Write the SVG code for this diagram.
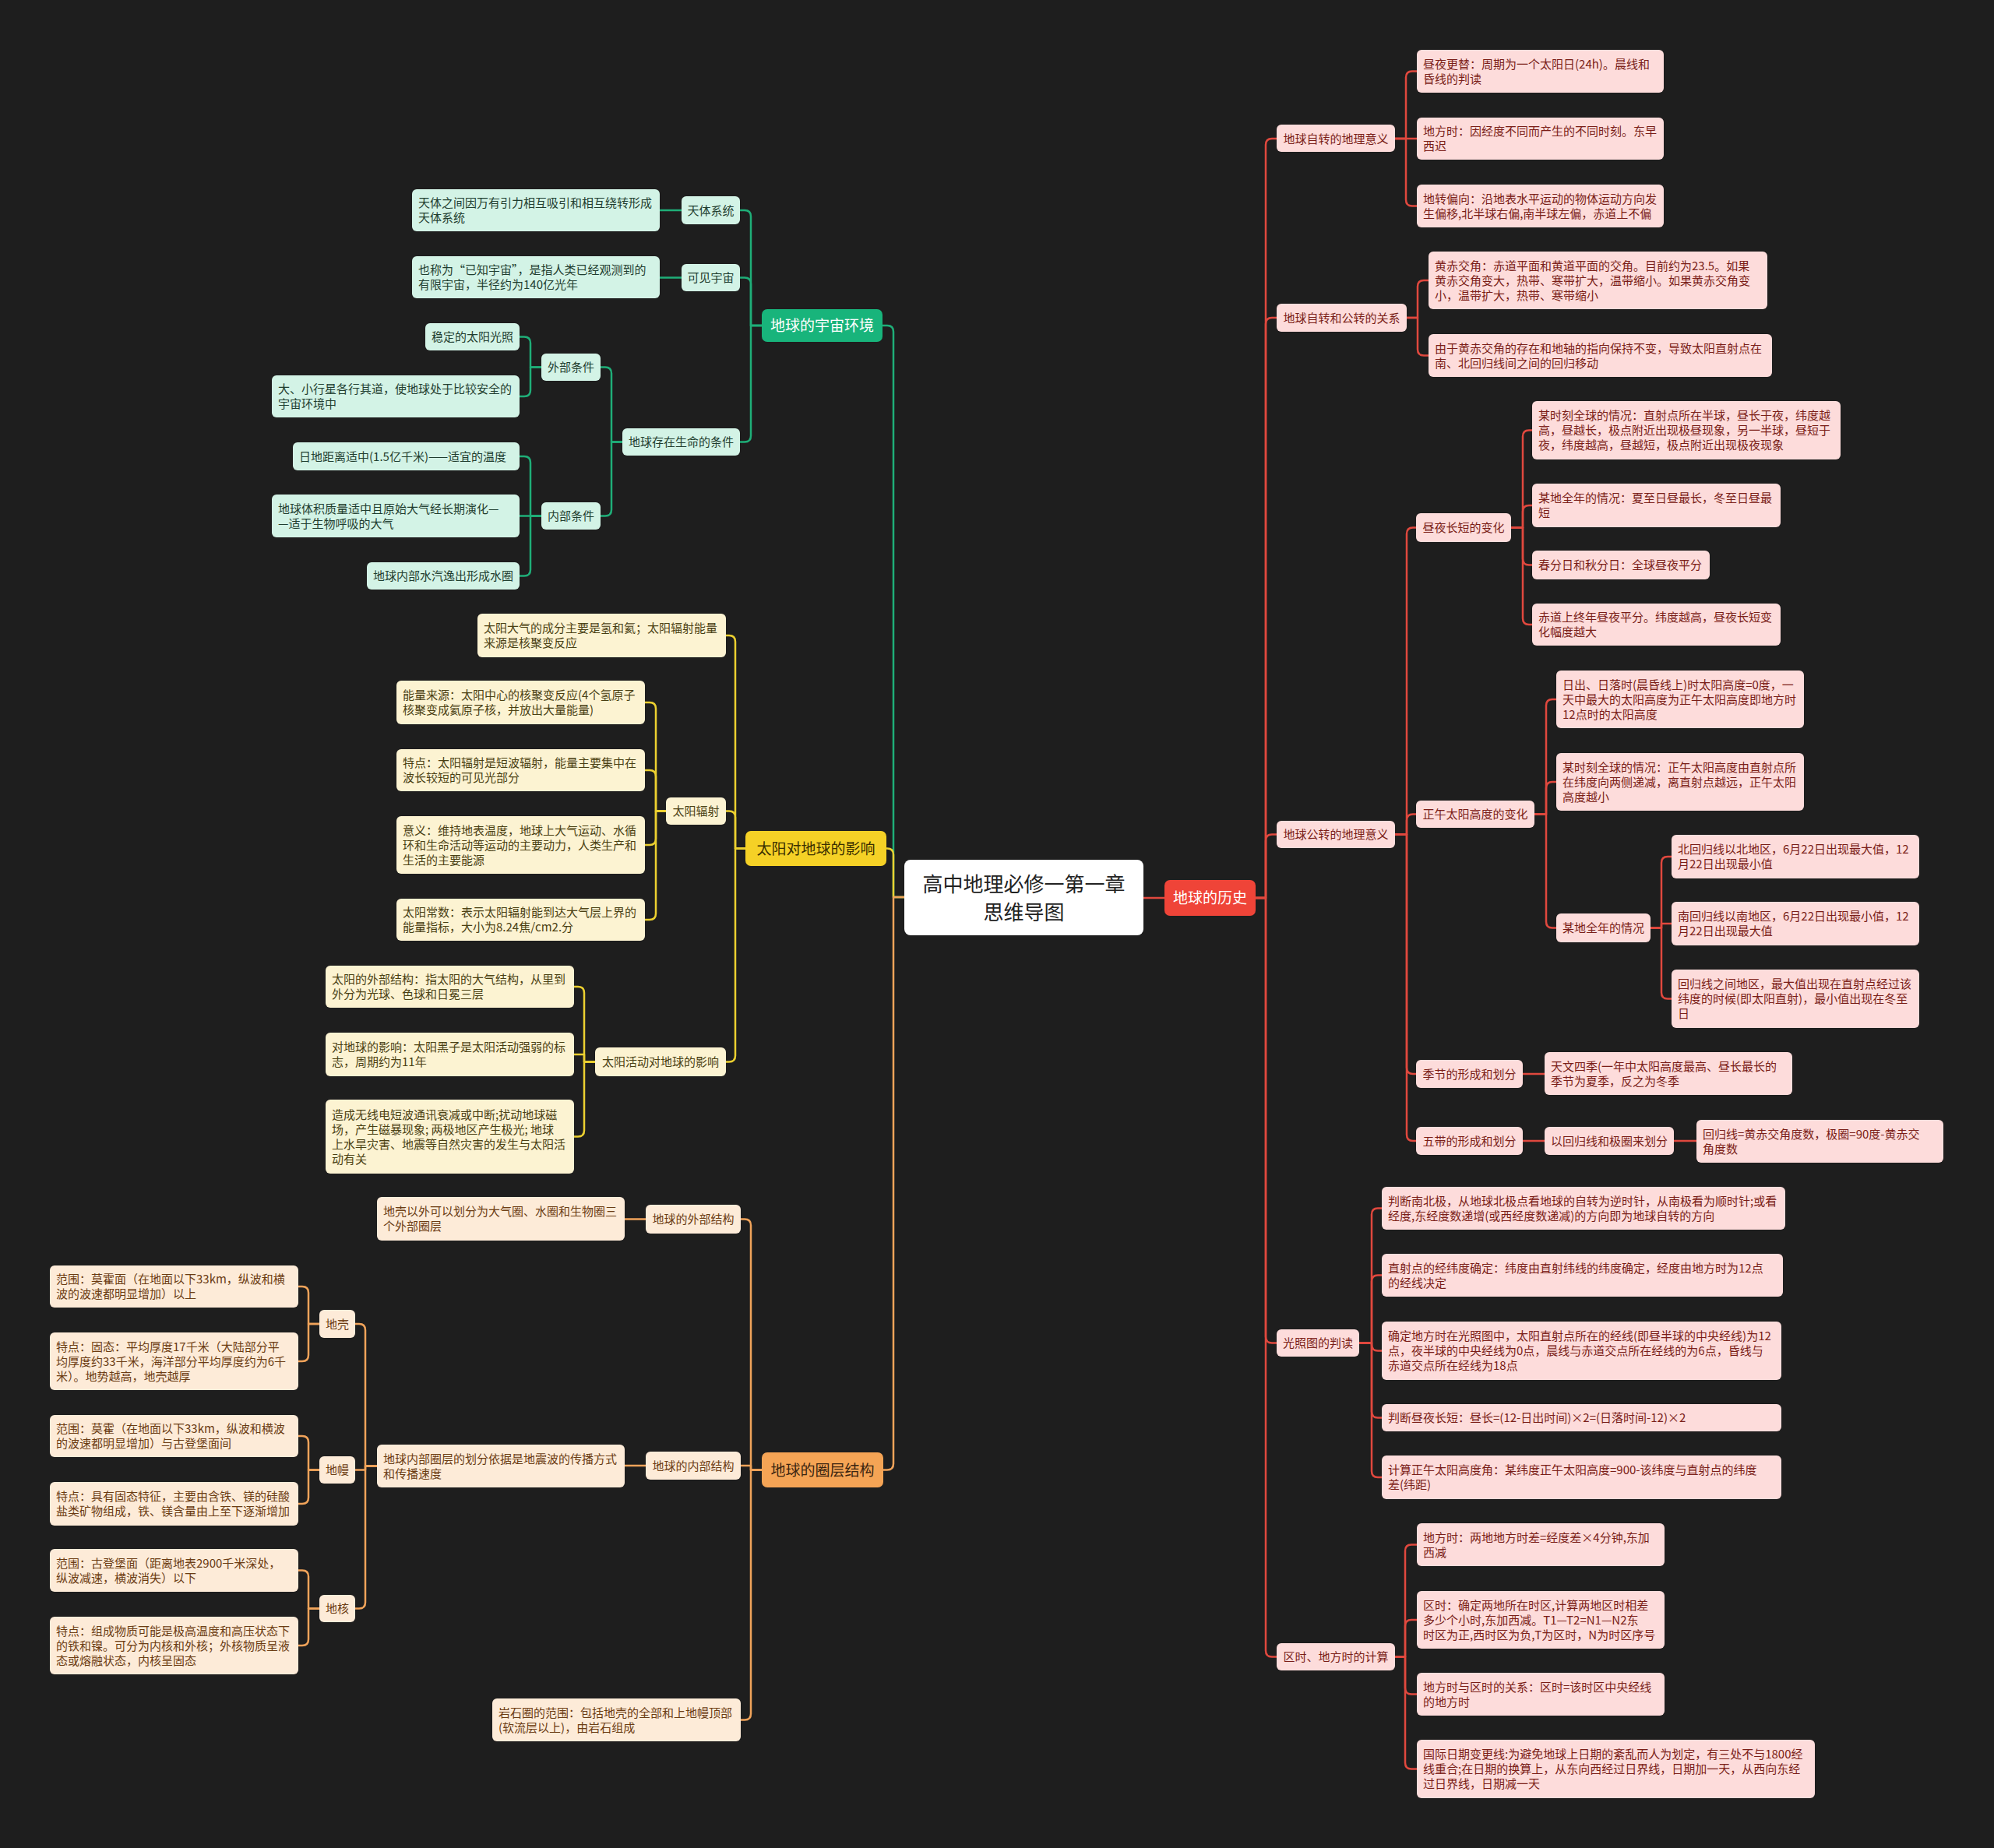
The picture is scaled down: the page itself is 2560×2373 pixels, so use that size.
<svg xmlns="http://www.w3.org/2000/svg" width="2560" height="2373" viewBox="0 0 2560 2373">
<style>
text{font-family:"Noto Sans CJK SC","Liberation Sans",sans-serif;font-size:15px}
.c{fill:none;stroke-width:2.5;stroke-linejoin:round;stroke-linecap:round}
.cr{stroke:#e0483e}.cg{stroke:#1fae78}.cy{stroke:#ecd030}.co{stroke:#f0a35a}
.lr{fill:#fddcdb}.lg{fill:#d3f3e6}.ly{fill:#fcf3d2}.lo{fill:#fdebd8}
.tr{fill:#7a1d17}.tg{fill:#1f3d2f}.ty{fill:#4a3f12}.to{fill:#6b3b12}
.m{text-anchor:middle}
.h{font-size:19px}
</style>
<rect width="2560" height="2373" fill="#1e1e1e"/>
<g id="connectors">
<path class="c cr" d="M1468,1153H1495"/>
<path class="c cr" d="M1612,1153H1625V186Q1625,178 1633,178H1639"/>
<path class="c cr" d="M1612,1153H1625V416Q1625,408 1633,408H1639"/>
<path class="c cr" d="M1612,1153H1625V1079.5Q1625,1071.5 1633,1071.5H1639"/>
<path class="c cr" d="M1612,1153H1625V1716.5Q1625,1724.5 1633,1724.5H1639"/>
<path class="c cr" d="M1612,1153H1625V2119.5Q1625,2127.5 1633,2127.5H1639"/>
<path class="c cr" d="M1791,178H1805V99.5Q1805,91.5 1813,91.5H1819"/>
<path class="c cr" d="M1791,178H1819"/>
<path class="c cr" d="M1791,178H1805V256.5Q1805,264.5 1813,264.5H1819"/>
<path class="c cr" d="M1806,408H1820V368Q1820,360 1828,360H1834"/>
<path class="c cr" d="M1806,408H1820V448.5Q1820,456.5 1828,456.5H1834"/>
<path class="c cr" d="M1791,1071.5H1806V685.5Q1806,677.5 1814,677.5H1818"/>
<path class="c cr" d="M1791,1071.5H1806V1053.5Q1806,1045.5 1814,1045.5H1818"/>
<path class="c cr" d="M1791,1071.5H1806V1371Q1806,1379 1814,1379H1818"/>
<path class="c cr" d="M1791,1071.5H1806V1457Q1806,1465 1814,1465H1818"/>
<path class="c cr" d="M1940,677.5H1955V560.5Q1955,552.5 1963,552.5H1967"/>
<path class="c cr" d="M1940,677.5H1955V657Q1955,649 1963,649H1967"/>
<path class="c cr" d="M1940,677.5H1955V717.5Q1955,725.5 1963,725.5H1967"/>
<path class="c cr" d="M1940,677.5H1955V794Q1955,802 1963,802H1967"/>
<path class="c cr" d="M1970,1045.5H1985V906Q1985,898 1993,898H1998"/>
<path class="c cr" d="M1970,1045.5H1985V1012Q1985,1004 1993,1004H1998"/>
<path class="c cr" d="M1970,1045.5H1985V1183.5Q1985,1191.5 1993,1191.5H1998"/>
<path class="c cr" d="M2119,1191.5H2133V1108Q2133,1100 2141,1100H2146"/>
<path class="c cr" d="M2119,1191.5H2133V1186H2146"/>
<path class="c cr" d="M2119,1191.5H2133V1274.5Q2133,1282.5 2141,1282.5H2146"/>
<path class="c cr" d="M1955,1379H1983"/>
<path class="c cr" d="M1955,1465H1983"/>
<path class="c cr" d="M2149,1465H2178"/>
<path class="c cr" d="M1745,1724.5H1761V1559.5Q1761,1551.5 1769,1551.5H1774"/>
<path class="c cr" d="M1745,1724.5H1761V1645.5Q1761,1637.5 1769,1637.5H1774"/>
<path class="c cr" d="M1745,1724.5H1761V1726.5Q1761,1734.5 1769,1734.5H1774"/>
<path class="c cr" d="M1745,1724.5H1761V1812.5Q1761,1820.5 1769,1820.5H1774"/>
<path class="c cr" d="M1745,1724.5H1761V1889Q1761,1897 1769,1897H1774"/>
<path class="c cr" d="M1791,2127.5H1804V1991.5Q1804,1983.5 1812,1983.5H1819"/>
<path class="c cr" d="M1791,2127.5H1804V2088Q1804,2080 1812,2080H1819"/>
<path class="c cr" d="M1791,2127.5H1804V2167.5Q1804,2175.5 1812,2175.5H1819"/>
<path class="c cr" d="M1791,2127.5H1804V2263.5Q1804,2271.5 1812,2271.5H1819"/>
<path class="c cg" d="M1161,1152H1147V426Q1147,418 1139,418H1133"/>
<path class="c cy" d="M1161,1152H1147V1097.5Q1147,1089.5 1139,1089.5H1138"/>
<path class="c co" d="M1161,1152H1147V1879.5Q1147,1887.5 1139,1887.5H1134"/>
<path class="c cg" d="M978,418H964V278Q964,270 956,270H950"/>
<path class="c cg" d="M978,418H964V364.5Q964,356.5 956,356.5H950"/>
<path class="c cg" d="M978,418H964V559.5Q964,567.5 956,567.5H950"/>
<path class="c cg" d="M875,270H847"/>
<path class="c cg" d="M875,356.5H847"/>
<path class="c cg" d="M799,567.5H785V479.5Q785,471.5 777,471.5H771"/>
<path class="c cg" d="M799,567.5H785V654.5Q785,662.5 777,662.5H771"/>
<path class="c cg" d="M695,471.5H681V440.5Q681,432.5 673,432.5H667"/>
<path class="c cg" d="M695,471.5H681V501Q681,509 673,509H667"/>
<path class="c cg" d="M695,662.5H681V594Q681,586 673,586H667"/>
<path class="c cg" d="M695,662.5H667"/>
<path class="c cg" d="M695,662.5H681V731.5Q681,739.5 673,739.5H667"/>
<path class="c cy" d="M957,1089.5H944V824Q944,816 936,816H932"/>
<path class="c cy" d="M957,1089.5H944V1049.5Q944,1041.5 936,1041.5H932"/>
<path class="c cy" d="M957,1089.5H944V1355.5Q944,1363.5 936,1363.5H932"/>
<path class="c cy" d="M855,1041.5H842V910Q842,902 834,902H828"/>
<path class="c cy" d="M855,1041.5H842V997Q842,989 834,989H828"/>
<path class="c cy" d="M855,1041.5H842V1077Q842,1085 834,1085H828"/>
<path class="c cy" d="M855,1041.5H842V1173Q842,1181 834,1181H828"/>
<path class="c cy" d="M764,1363.5H750V1275Q750,1267 742,1267H737"/>
<path class="c cy" d="M764,1363.5H750V1354H737"/>
<path class="c cy" d="M764,1363.5H750V1451.5Q750,1459.5 742,1459.5H737"/>
<path class="c co" d="M978,1887.5H964V1573.5Q964,1565.5 956,1565.5H951"/>
<path class="c co" d="M978,1887.5H964V1882H951"/>
<path class="c co" d="M978,1887.5H964V2200.5Q964,2208.5 956,2208.5H951"/>
<path class="c co" d="M829,1565.5H802"/>
<path class="c co" d="M829,1882H802"/>
<path class="c co" d="M484,1882.5H469V1708Q469,1700 461,1700H456"/>
<path class="c co" d="M484,1882.5H469V1887.5H456"/>
<path class="c co" d="M484,1882.5H469V2057.5Q469,2065.5 461,2065.5H456"/>
<path class="c co" d="M410,1700H396V1660Q396,1652 388,1652H383"/>
<path class="c co" d="M410,1700H396V1740Q396,1748 388,1748H383"/>
<path class="c co" d="M410,1887.5H396V1852Q396,1844 388,1844H383"/>
<path class="c co" d="M410,1887.5H396V1923Q396,1931 388,1931H383"/>
<path class="c co" d="M410,2065.5H396V2024.5Q396,2016.5 388,2016.5H383"/>
<path class="c co" d="M410,2065.5H396V2105Q396,2113 388,2113H383"/>
</g>

<g id="center"><rect x="1161" y="1104" width="307" height="97" rx="8" fill="#ffffff"/>
<text class="m" x="1314.5" y="1145" style="font-size:26px" fill="#222">高中地理必修一第一章</text>
<text class="m" x="1314.5" y="1181" style="font-size:26px" fill="#222">思维导图</text></g>

<g id="n-history"><rect x="1495" y="1130" width="117" height="46" rx="7" fill="#ef4438"/><text class="m h" x="1553.5" y="1160" fill="#fff">地球的历史</text></g>
<g id="n-cosmos"><rect x="978" y="397" width="155" height="42" rx="7" fill="#18b47b"/><text class="m h" x="1055.5" y="425" fill="#fff">地球的宇宙环境</text></g>
<g id="n-sun"><rect x="957" y="1067" width="181" height="45" rx="7" fill="#f5d126"/><text class="m h" x="1047.5" y="1096.5" fill="#3a2f00">太阳对地球的影响</text></g>
<g id="n-layers"><rect x="978" y="1865" width="156" height="45" rx="7" fill="#f5a455"/><text class="m h" x="1056" y="1894.5" fill="#3b2410">地球的圈层结构</text></g>

<!-- red branch -->
<g id="n-r1"><rect class="lr" x="1639" y="160" width="152" height="35" rx="6"/><text class="tr m" x="1715" y="183.5">地球自转的地理意义</text></g>
<g id="n-r1a"><rect class="lr" x="1819" y="64" width="317" height="55" rx="6"/><text class="tr"><tspan x="1827" y="87.5">昼夜更替：周期为一个太阳日(24h)。晨线和</tspan><tspan x="1827" y="106.5">昏线的判读</tspan></text></g>
<g id="n-r1b"><rect class="lr" x="1819" y="151" width="317" height="54" rx="6"/><text class="tr"><tspan x="1827" y="174">地方时：因经度不同而产生的不同时刻。东早</tspan><tspan x="1827" y="193">西迟</tspan></text></g>
<g id="n-r1c"><rect class="lr" x="1819" y="237" width="317" height="55" rx="6"/><text class="tr"><tspan x="1827" y="260.5">地转偏向：沿地表水平运动的物体运动方向发</tspan><tspan x="1827" y="279.5">生偏移,北半球右偏,南半球左偏，赤道上不偏</tspan></text></g>

<g id="n-r2"><rect class="lr" x="1639" y="390" width="167" height="36" rx="6"/><text class="tr m" x="1722.5" y="413.5">地球自转和公转的关系</text></g>
<g id="n-r2a"><rect class="lr" x="1834" y="323" width="435" height="74" rx="6"/><text class="tr"><tspan x="1842" y="346.5">黄赤交角：赤道平面和黄道平面的交角。目前约为23.5。如果</tspan><tspan x="1842" y="365.5">黄赤交角变大，热带、寒带扩大，温带缩小。如果黄赤交角变</tspan><tspan x="1842" y="384.5">小，温带扩大，热带、寒带缩小</tspan></text></g>
<g id="n-r2b"><rect class="lr" x="1834" y="429" width="441" height="55" rx="6"/><text class="tr"><tspan x="1842" y="452.5">由于黄赤交角的存在和地轴的指向保持不变，导致太阳直射点在</tspan><tspan x="1842" y="471.5">南、北回归线间之间的回归移动</tspan></text></g>

<g id="n-r3"><rect class="lr" x="1639" y="1054" width="152" height="35" rx="6"/><text class="tr m" x="1715" y="1077">地球公转的地理意义</text></g>
<g id="n-r3a"><rect class="lr" x="1818" y="659" width="122" height="37" rx="6"/><text class="tr m" x="1879" y="683">昼夜长短的变化</text></g>
<g id="n-r3a1"><rect class="lr" x="1967" y="515" width="396" height="75" rx="6"/><text class="tr"><tspan x="1975" y="539">某时刻全球的情况：直射点所在半球，昼长于夜，纬度越</tspan><tspan x="1975" y="558">高，昼越长，极点附近出现极昼现象，另一半球，昼短于</tspan><tspan x="1975" y="577">夜，纬度越高，昼越短，极点附近出现极夜现象</tspan></text></g>
<g id="n-r3a2"><rect class="lr" x="1967" y="621" width="319" height="56" rx="6"/><text class="tr"><tspan x="1975" y="645">某地全年的情况：夏至日昼最长，冬至日昼最</tspan><tspan x="1975" y="664">短</tspan></text></g>
<g id="n-r3a3"><rect class="lr" x="1967" y="707" width="228" height="37" rx="6"/><text class="tr" x="1975" y="731">春分日和秋分日：全球昼夜平分</text></g>
<g id="n-r3a4"><rect class="lr" x="1967" y="775" width="319" height="54" rx="6"/><text class="tr"><tspan x="1975" y="798">赤道上终年昼夜平分。纬度越高，昼夜长短变</tspan><tspan x="1975" y="817">化幅度越大</tspan></text></g>

<g id="n-r3b"><rect class="lr" x="1818" y="1028" width="152" height="35" rx="6"/><text class="tr m" x="1894" y="1051">正午太阳高度的变化</text></g>
<g id="n-r3b1"><rect class="lr" x="1998" y="861" width="318" height="74" rx="6"/><text class="tr"><tspan x="2006" y="884.5">日出、日落时(晨昏线上)时太阳高度=0度，一</tspan><tspan x="2006" y="903.5">天中最大的太阳高度为正午太阳高度即地方时</tspan><tspan x="2006" y="922.5">12点时的太阳高度</tspan></text></g>
<g id="n-r3b2"><rect class="lr" x="1998" y="967" width="318" height="74" rx="6"/><text class="tr"><tspan x="2006" y="990.5">某时刻全球的情况：正午太阳高度由直射点所</tspan><tspan x="2006" y="1009.5">在纬度向两侧递减，离直射点越远，正午太阳</tspan><tspan x="2006" y="1028.5">高度越小</tspan></text></g>
<g id="n-r3b3"><rect class="lr" x="1998" y="1173" width="121" height="37" rx="6"/><text class="tr m" x="2058.5" y="1197">某地全年的情况</text></g>
<g id="n-r3b3a"><rect class="lr" x="2146" y="1072" width="318" height="56" rx="6"/><text class="tr"><tspan x="2154" y="1096">北回归线以北地区，6月22日出现最大值，12</tspan><tspan x="2154" y="1115">月22日出现最小值</tspan></text></g>
<g id="n-r3b3b"><rect class="lr" x="2146" y="1158" width="318" height="56" rx="6"/><text class="tr"><tspan x="2154" y="1182">南回归线以南地区，6月22日出现最小值，12</tspan><tspan x="2154" y="1201">月22日出现最大值</tspan></text></g>
<g id="n-r3b3c"><rect class="lr" x="2146" y="1245" width="318" height="75" rx="6"/><text class="tr"><tspan x="2154" y="1269">回归线之间地区，最大值出现在直射点经过该</tspan><tspan x="2154" y="1288">纬度的时候(即太阳直射)，最小值出现在冬至</tspan><tspan x="2154" y="1307">日</tspan></text></g>

<g id="n-r3c"><rect class="lr" x="1818" y="1361" width="137" height="36" rx="6"/><text class="tr m" x="1886.5" y="1384.5">季节的形成和划分</text></g>
<g id="n-r3c1"><rect class="lr" x="1983" y="1351" width="318" height="55" rx="6"/><text class="tr"><tspan x="1991" y="1374.5">天文四季(一年中太阳高度最高、昼长最长的</tspan><tspan x="1991" y="1393.5">季节为夏季，反之为冬季</tspan></text></g>
<g id="n-r3d"><rect class="lr" x="1818" y="1447" width="137" height="36" rx="6"/><text class="tr m" x="1886.5" y="1470.5">五带的形成和划分</text></g>
<g id="n-r3d1"><rect class="lr" x="1983" y="1447" width="166" height="36" rx="6"/><text class="tr m" x="2066" y="1470.5">以回归线和极圈来划分</text></g>
<g id="n-r3d2"><rect class="lr" x="2178" y="1438" width="317" height="55" rx="6"/><text class="tr"><tspan x="2186" y="1461.5">回归线=黄赤交角度数，极圈=90度-黄赤交</tspan><tspan x="2186" y="1480.5">角度数</tspan></text></g>

<g id="n-r4"><rect class="lr" x="1639" y="1707" width="106" height="35" rx="6"/><text class="tr m" x="1692" y="1730">光照图的判读</text></g>
<g id="n-r4a"><rect class="lr" x="1774" y="1524" width="518" height="55" rx="6"/><text class="tr"><tspan x="1782" y="1547.5">判断南北极，从地球北极点看地球的自转为逆时针，从南极看为顺时针;或看</tspan><tspan x="1782" y="1566.5">经度,东经度数递增(或西经度数递减)的方向即为地球自转的方向</tspan></text></g>
<g id="n-r4b"><rect class="lr" x="1774" y="1610" width="515" height="55" rx="6"/><text class="tr"><tspan x="1782" y="1633.5">直射点的经纬度确定：纬度由直射纬线的纬度确定，经度由地方时为12点</tspan><tspan x="1782" y="1652.5">的经线决定</tspan></text></g>
<g id="n-r4c"><rect class="lr" x="1774" y="1697" width="513" height="75" rx="6"/><text class="tr"><tspan x="1782" y="1721">确定地方时在光照图中，太阳直射点所在的经线(即昼半球的中央经线)为12</tspan><tspan x="1782" y="1740">点，夜半球的中央经线为0点，晨线与赤道交点所在经线的为6点，昏线与</tspan><tspan x="1782" y="1759">赤道交点所在经线为18点</tspan></text></g>
<g id="n-r4d"><rect class="lr" x="1774" y="1803" width="513" height="35" rx="6"/><text class="tr" x="1782" y="1826">判断昼夜长短：昼长=(12-日出时间)×2=(日落时间-12)×2</text></g>
<g id="n-r4e"><rect class="lr" x="1774" y="1869" width="513" height="56" rx="6"/><text class="tr"><tspan x="1782" y="1893">计算正午太阳高度角：某纬度正午太阳高度=900-该纬度与直射点的纬度</tspan><tspan x="1782" y="1912">差(纬距)</tspan></text></g>

<g id="n-r5"><rect class="lr" x="1639" y="2110" width="152" height="35" rx="6"/><text class="tr m" x="1715" y="2133">区时、地方时的计算</text></g>
<g id="n-r5a"><rect class="lr" x="1819" y="1956" width="318" height="55" rx="6"/><text class="tr"><tspan x="1827" y="1979.5">地方时：两地地方时差=经度差×4分钟,东加</tspan><tspan x="1827" y="1998.5">西减</tspan></text></g>
<g id="n-r5b"><rect class="lr" x="1819" y="2043" width="318" height="74" rx="6"/><text class="tr"><tspan x="1827" y="2066.5">区时：确定两地所在时区,计算两地区时相差</tspan><tspan x="1827" y="2085.5">多少个小时,东加西减。T1—T2=N1—N2东</tspan><tspan x="1827" y="2104.5">时区为正,西时区为负,T为区时，N为时区序号</tspan></text></g>
<g id="n-r5c"><rect class="lr" x="1819" y="2148" width="318" height="55" rx="6"/><text class="tr"><tspan x="1827" y="2171.5">地方时与区时的关系：区时=该时区中央经线</tspan><tspan x="1827" y="2190.5">的地方时</tspan></text></g>
<g id="n-r5d"><rect class="lr" x="1819" y="2234" width="511" height="75" rx="6"/><text class="tr"><tspan x="1827" y="2258">国际日期变更线:为避免地球上日期的紊乱而人为划定，有三处不与1800经</tspan><tspan x="1827" y="2277">线重合;在日期的换算上，从东向西经过日界线，日期加一天，从西向东经</tspan><tspan x="1827" y="2296">过日界线，日期减一天</tspan></text></g>

<!-- green branch -->
<g id="n-g1"><rect class="lg" x="875" y="252" width="75" height="36" rx="6"/><text class="tg m" x="912.5" y="275.5">天体系统</text></g>
<g id="n-g1a"><rect class="lg" x="529" y="243" width="318" height="54" rx="6"/><text class="tg"><tspan x="537" y="266">天体之间因万有引力相互吸引和相互绕转形成</tspan><tspan x="537" y="285">天体系统</tspan></text></g>
<g id="n-g2"><rect class="lg" x="875" y="339" width="75" height="35" rx="6"/><text class="tg m" x="912.5" y="362">可见宇宙</text></g>
<g id="n-g2a"><rect class="lg" x="529" y="329" width="318" height="54" rx="6"/><text class="tg"><tspan x="537" y="352">也称为“已知宇宙”，是指人类已经观测到的</tspan><tspan x="537" y="371">有限宇宙，半径约为140亿光年</tspan></text></g>
<g id="n-g3"><rect class="lg" x="799" y="550" width="151" height="35" rx="6"/><text class="tg m" x="874.5" y="573">地球存在生命的条件</text></g>
<g id="n-g3a"><rect class="lg" x="695" y="454" width="76" height="35" rx="6"/><text class="tg m" x="733" y="477">外部条件</text></g>
<g id="n-g3a1"><rect class="lg" x="546" y="415" width="121" height="35" rx="6"/><text class="tg" x="554" y="438">稳定的太阳光照</text></g>
<g id="n-g3a2"><rect class="lg" x="349" y="482" width="318" height="54" rx="6"/><text class="tg"><tspan x="357" y="505">大、小行星各行其道，使地球处于比较安全的</tspan><tspan x="357" y="524">宇宙环境中</tspan></text></g>
<g id="n-g3b"><rect class="lg" x="695" y="645" width="76" height="35" rx="6"/><text class="tg m" x="733" y="668">内部条件</text></g>
<g id="n-g3b1"><rect class="lg" x="376" y="568" width="291" height="36" rx="6"/><text class="tg" x="384" y="591.5">日地距离适中(1.5亿千米)——适宜的温度</text></g>
<g id="n-g3b2"><rect class="lg" x="349" y="635" width="318" height="55" rx="6"/><text class="tg"><tspan x="357" y="658.5">地球体积质量适中且原始大气经长期演化—</tspan><tspan x="357" y="677.5">—适于生物呼吸的大气</tspan></text></g>
<g id="n-g3b3"><rect class="lg" x="471" y="722" width="196" height="35" rx="6"/><text class="tg" x="479" y="745">地球内部水汽逸出形成水圈</text></g>

<!-- yellow branch -->
<g id="n-y1"><rect class="ly" x="613" y="788" width="319" height="56" rx="6"/><text class="ty"><tspan x="621" y="812">太阳大气的成分主要是氢和氦；太阳辐射能量</tspan><tspan x="621" y="831">来源是核聚变反应</tspan></text></g>
<g id="n-y2"><rect class="ly" x="855" y="1024" width="77" height="35" rx="6"/><text class="ty m" x="893.5" y="1047">太阳辐射</text></g>
<g id="n-y2a"><rect class="ly" x="509" y="874" width="319" height="56" rx="6"/><text class="ty"><tspan x="517" y="898">能量来源：太阳中心的核聚变反应(4个氢原子</tspan><tspan x="517" y="917">核聚变成氦原子核，并放出大量能量)</tspan></text></g>
<g id="n-y2b"><rect class="ly" x="509" y="962" width="319" height="54" rx="6"/><text class="ty"><tspan x="517" y="985">特点：太阳辐射是短波辐射，能量主要集中在</tspan><tspan x="517" y="1004">波长较短的可见光部分</tspan></text></g>
<g id="n-y2c"><rect class="ly" x="509" y="1048" width="319" height="74" rx="6"/><text class="ty"><tspan x="517" y="1071.5">意义：维持地表温度，地球上大气运动、水循</tspan><tspan x="517" y="1090.5">环和生命活动等运动的主要动力，人类生产和</tspan><tspan x="517" y="1109.5">生活的主要能源</tspan></text></g>
<g id="n-y2d"><rect class="ly" x="509" y="1154" width="319" height="54" rx="6"/><text class="ty"><tspan x="517" y="1177">太阳常数：表示太阳辐射能到达大气层上界的</tspan><tspan x="517" y="1196">能量指标，大小为8.24焦/cm2.分</tspan></text></g>
<g id="n-y3"><rect class="ly" x="764" y="1345" width="168" height="37" rx="6"/><text class="ty m" x="848" y="1369">太阳活动对地球的影响</text></g>
<g id="n-y3a"><rect class="ly" x="418" y="1240" width="319" height="54" rx="6"/><text class="ty"><tspan x="426" y="1263">太阳的外部结构：指太阳的大气结构，从里到</tspan><tspan x="426" y="1282">外分为光球、色球和日冕三层</tspan></text></g>
<g id="n-y3b"><rect class="ly" x="418" y="1326" width="319" height="56" rx="6"/><text class="ty"><tspan x="426" y="1350">对地球的影响：太阳黑子是太阳活动强弱的标</tspan><tspan x="426" y="1369">志，周期约为11年</tspan></text></g>
<g id="n-y3c"><rect class="ly" x="418" y="1412" width="319" height="95" rx="6"/><text class="ty"><tspan x="426" y="1436.5">造成无线电短波通讯衰减或中断;扰动地球磁</tspan><tspan x="426" y="1455.5">场，产生磁暴现象; 两极地区产生极光; 地球</tspan><tspan x="426" y="1474.5">上水旱灾害、地震等自然灾害的发生与太阳活</tspan><tspan x="426" y="1493.5">动有关</tspan></text></g>

<!-- orange branch -->
<g id="n-o1"><rect class="lo" x="829" y="1547" width="122" height="37" rx="6"/><text class="to m" x="890" y="1571">地球的外部结构</text></g>
<g id="n-o1a"><rect class="lo" x="484" y="1537" width="318" height="56" rx="6"/><text class="to"><tspan x="492" y="1561">地壳以外可以划分为大气圈、水圈和生物圈三</tspan><tspan x="492" y="1580">个外部圈层</tspan></text></g>
<g id="n-o2"><rect class="lo" x="829" y="1864" width="122" height="36" rx="6"/><text class="to m" x="890" y="1887.5">地球的内部结构</text></g>
<g id="n-o2a"><rect class="lo" x="484" y="1855" width="318" height="55" rx="6"/><text class="to"><tspan x="492" y="1878.5">地球内部圈层的划分依据是地震波的传播方式</tspan><tspan x="492" y="1897.5">和传播速度</tspan></text></g>
<g id="n-o2a1"><rect class="lo" x="410" y="1682" width="46" height="36" rx="6"/><text class="to m" x="433" y="1705.5">地壳</text></g>
<g id="n-o2a1a"><rect class="lo" x="64" y="1625" width="319" height="54" rx="6"/><text class="to"><tspan x="72" y="1648">范围：莫霍面（在地面以下33km，纵波和横</tspan><tspan x="72" y="1667">波的波速都明显增加）以上</tspan></text></g>
<g id="n-o2a1b"><rect class="lo" x="64" y="1711" width="319" height="74" rx="6"/><text class="to"><tspan x="72" y="1734.5">特点：固态：平均厚度17千米（大陆部分平</tspan><tspan x="72" y="1753.5">均厚度约33千米，海洋部分平均厚度约为6千</tspan><tspan x="72" y="1772.5">米）。地势越高，地壳越厚</tspan></text></g>
<g id="n-o2a2"><rect class="lo" x="410" y="1870" width="46" height="35" rx="6"/><text class="to m" x="433" y="1893">地幔</text></g>
<g id="n-o2a2a"><rect class="lo" x="64" y="1817" width="319" height="54" rx="6"/><text class="to"><tspan x="72" y="1840">范围：莫霍（在地面以下33km，纵波和横波</tspan><tspan x="72" y="1859">的波速都明显增加）与古登堡面间</tspan></text></g>
<g id="n-o2a2b"><rect class="lo" x="64" y="1903" width="319" height="56" rx="6"/><text class="to"><tspan x="72" y="1927">特点：具有固态特征，主要由含铁、镁的硅酸</tspan><tspan x="72" y="1946">盐类矿物组成，铁、镁含量由上至下逐渐增加</tspan></text></g>
<g id="n-o2a3"><rect class="lo" x="410" y="2048" width="46" height="35" rx="6"/><text class="to m" x="433" y="2071">地核</text></g>
<g id="n-o2a3a"><rect class="lo" x="64" y="1989" width="319" height="55" rx="6"/><text class="to"><tspan x="72" y="2012.5">范围：古登堡面（距离地表2900千米深处，</tspan><tspan x="72" y="2031.5">纵波减速，横波消失）以下</tspan></text></g>
<g id="n-o2a3b"><rect class="lo" x="64" y="2076" width="319" height="74" rx="6"/><text class="to"><tspan x="72" y="2099.5">特点：组成物质可能是极高温度和高压状态下</tspan><tspan x="72" y="2118.5">的铁和镍。可分为内核和外核；外核物质呈液</tspan><tspan x="72" y="2137.5">态或熔融状态，内核呈固态</tspan></text></g>
<g id="n-o3"><rect class="lo" x="632" y="2181" width="319" height="55" rx="6"/><text class="to"><tspan x="640" y="2204.5">岩石圈的范围：包括地壳的全部和上地幔顶部</tspan><tspan x="640" y="2223.5">(软流层以上)，由岩石组成</tspan></text></g>
</svg>
